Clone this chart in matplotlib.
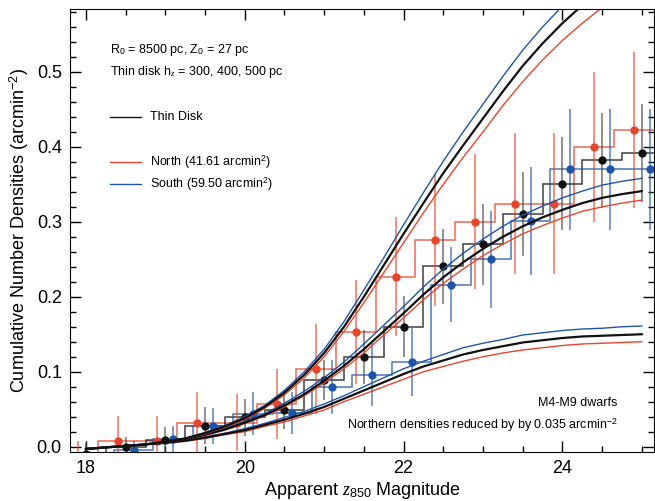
import matplotlib.pyplot as plt
from matplotlib.ticker import MultipleLocator
import numpy as np

plt.rcParams['font.family'] = ['Liberation Sans', 'DejaVu Sans']
plt.rcParams['mathtext.fontset'] = 'custom'
plt.rcParams['mathtext.rm'] = 'Liberation Sans'
plt.rcParams['mathtext.it'] = 'Liberation Serif:italic'

# binned cumulative densities (black = all, red = north, blue = south)
mag_bins = [18.0, 18.5, 19.0, 19.5, 20.0, 20.5, 21.0, 21.5,
            22.0, 22.5, 23.0, 23.5, 24.0, 24.5, 25.0]
all_dens = [-0.010, 0.000, 0.009, 0.028, 0.039, 0.049, 0.089, 0.120,
            0.160, 0.241, 0.270, 0.311, 0.351, 0.382, 0.392]
all_err = [0.015, 0.013, 0.017, 0.025, 0.025, 0.026, 0.027, 0.036,
           0.041, 0.050, 0.054, 0.056, 0.062, 0.063, 0.065]

north_mag = [17.9, 18.4, 18.9, 19.4, 19.9, 20.4, 20.9, 21.4,
             21.9, 22.4, 22.9, 23.4, 23.9, 24.4, 24.9]
north_dens = [-0.030, 0.007, 0.007, 0.031, 0.032, 0.057, 0.104, 0.153,
              0.227, 0.276, 0.300, 0.324, 0.324, 0.400, 0.423]
north_err = [0.037, 0.034, 0.034, 0.042, 0.038, 0.047, 0.060, 0.069,
             0.080, 0.088, 0.090, 0.094, 0.094, 0.100, 0.104]

south_mag = [18.1, 18.6, 19.1, 19.6, 20.1, 20.6, 21.1, 21.6,
             22.1, 22.6, 23.1, 23.6, 24.1, 24.6, 25.1]
south_dens = [-0.020, -0.005, 0.010, 0.027, 0.044, 0.045, 0.079, 0.096,
              0.113, 0.216, 0.250, 0.301, 0.370, 0.370, 0.370]
south_err = [0.010, 0.012, 0.018, 0.024, 0.029, 0.028, 0.036, 0.042,
             0.045, 0.050, 0.065, 0.072, 0.081, 0.081, 0.081]

# thin disk model curves for hz = 300, 400, 500 pc
model_mag = [18.0, 18.25, 18.5, 18.75, 19.0, 19.25, 19.5, 19.75,
             20.0, 20.25, 20.5, 20.75, 21.0, 21.25, 21.5, 21.75,
             22.0, 22.25, 22.5, 22.75, 23.0, 23.25, 23.5, 23.75,
             24.0, 24.25, 24.5, 24.75, 25.0]
hz300_all = [-0.003, -0.001, 0.001, 0.003, 0.005, 0.008, 0.012, 0.017,
             0.022, 0.029, 0.036, 0.044, 0.053, 0.064, 0.075, 0.086,
             0.097, 0.107, 0.115, 0.123, 0.129, 0.134, 0.139, 0.142,
             0.145, 0.147, 0.148, 0.149, 0.150]
hz300_south = [-0.003, -0.001, 0.001, 0.003, 0.005, 0.009, 0.013, 0.018,
               0.024, 0.031, 0.039, 0.047, 0.057, 0.068, 0.080, 0.092,
               0.104, 0.114, 0.123, 0.132, 0.138, 0.143, 0.149, 0.152,
               0.155, 0.157, 0.158, 0.160, 0.161]
hz300_north = [-0.003, -0.001, 0.001, 0.003, 0.005, 0.007, 0.011, 0.016,
               0.020, 0.027, 0.033, 0.041, 0.049, 0.060, 0.070, 0.080,
               0.090, 0.100, 0.107, 0.114, 0.120, 0.125, 0.129, 0.132,
               0.135, 0.137, 0.138, 0.139, 0.140]
hz400_all = [-0.003, -0.001, 0.001, 0.003, 0.006, 0.010, 0.016, 0.023,
             0.032, 0.042, 0.055, 0.070, 0.088, 0.108, 0.130, 0.154,
             0.178, 0.203, 0.226, 0.246, 0.264, 0.280, 0.294, 0.306,
             0.316, 0.325, 0.332, 0.337, 0.341]
hz400_south = [-0.003, -0.001, 0.001, 0.003, 0.006, 0.011, 0.017, 0.024,
               0.034, 0.044, 0.058, 0.074, 0.092, 0.113, 0.137, 0.162,
               0.187, 0.213, 0.237, 0.258, 0.277, 0.294, 0.309, 0.321,
               0.332, 0.341, 0.349, 0.354, 0.358]
hz400_north = [-0.003, -0.001, 0.001, 0.003, 0.006, 0.010, 0.015, 0.022,
               0.031, 0.041, 0.053, 0.068, 0.085, 0.104, 0.125, 0.149,
               0.172, 0.196, 0.218, 0.237, 0.255, 0.270, 0.284, 0.295,
               0.305, 0.314, 0.320, 0.325, 0.329]
hz500_all = [-0.003, -0.001, 0.001, 0.003, 0.007, 0.011, 0.018, 0.027,
             0.038, 0.053, 0.072, 0.096, 0.125, 0.160, 0.200, 0.242,
             0.284, 0.325, 0.365, 0.402, 0.438, 0.474, 0.508, 0.538,
             0.565, 0.589, 0.610, 0.630, 0.650]
hz500_south = [-0.003, -0.001, 0.001, 0.003, 0.007, 0.011, 0.019, 0.028,
               0.040, 0.055, 0.075, 0.100, 0.130, 0.167, 0.209, 0.252,
               0.296, 0.339, 0.381, 0.420, 0.457, 0.494, 0.529, 0.560,
               0.588, 0.613, 0.635, 0.656, 0.676]
hz500_north = [-0.003, -0.001, 0.001, 0.003, 0.007, 0.011, 0.017, 0.026,
               0.036, 0.051, 0.069, 0.092, 0.120, 0.154, 0.192, 0.232,
               0.272, 0.312, 0.350, 0.386, 0.420, 0.455, 0.487, 0.516,
               0.542, 0.565, 0.586, 0.605, 0.624]

red = '#e8452c'
blue = '#1f55a8'
black = '#111111'
bin_width = 0.5

fig = plt.figure(figsize=(6.55, 5.01), dpi=100)
ax = fig.add_axes([0.107, 0.098, 0.891, 0.884])


def draw_set(mags, dens, errs, color, err_color):
    mags = np.array(mags)
    edges = np.append(mags - bin_width / 2, mags[-1] + bin_width / 2)
    ax.stairs(dens, edges, baseline=None, color=color, lw=1.1, alpha=0.8)
    ax.errorbar(mags, dens, yerr=errs, fmt='none', ecolor=err_color,
                elinewidth=1.1, alpha=0.75)
    ax.plot(mags, dens, 'o', color=color, ms=6, mec='none')


draw_set(north_mag, north_dens, north_err, red, red)
draw_set(mag_bins, all_dens, all_err, black, '#444444')
draw_set(south_mag, south_dens, south_err, blue, blue)

for curve_all, curve_n, curve_s in [(hz300_all, hz300_north, hz300_south),
                                    (hz400_all, hz400_north, hz400_south),
                                    (hz500_all, hz500_north, hz500_south)]:
    ax.plot(model_mag, curve_n, color=red, lw=1.0)
    ax.plot(model_mag, curve_s, color=blue, lw=1.0)
    ax.plot(model_mag, curve_all, color=black, lw=1.6)

ax.set_xlim(17.8, 25.15)
ax.set_ylim(-0.007, 0.584)
ax.xaxis.set_major_locator(MultipleLocator(2))
ax.xaxis.set_minor_locator(MultipleLocator(0.5))
ax.yaxis.set_major_locator(MultipleLocator(0.1))
ax.yaxis.set_minor_locator(MultipleLocator(0.02))
ax.tick_params(which='both', direction='in', top=True, right=True,
               labelsize=13, width=1.0)
ax.tick_params(which='major', length=8, pad=6)
ax.tick_params(which='minor', length=4)
ax.yaxis.set_major_formatter(plt.FuncFormatter(lambda v, p: f'{v:.1f}'))

ax.set_xlabel(r'Apparent $\mathit{z}_{850}$ Magnitude', fontsize=13, labelpad=2)
ax.set_ylabel(r'Cumulative Number Densities (arcmin$^{-2}$)', fontsize=13,
              labelpad=4)

ax.text(0.0685, 0.907, r'R$_0$ = 8500 pc, Z$_0$ = 27 pc', transform=ax.transAxes,
        fontsize=9, va='center')
ax.text(0.0685, 0.858, r'Thin disk h$_z$ = 300, 400, 500 pc',
        transform=ax.transAxes, fontsize=9, va='center')

legend_rows = [(0.756, black, 'Thin Disk'),
               (0.655, red, r'North (41.61 arcmin$^2$)'),
               (0.605, blue, r'South (59.50 arcmin$^2$)')]
for y, c, label in legend_rows:
    ax.plot([0.0685, 0.1216], [y, y], color=c, lw=1.0, transform=ax.transAxes)
    ax.text(0.137, y, label, transform=ax.transAxes, fontsize=9, va='center')

ax.text(0.937, 0.111, 'M4-M9 dwarfs', transform=ax.transAxes, fontsize=9,
        ha='right', va='center')
ax.text(0.938, 0.061, r'Northern densities reduced by by 0.035 arcmin$^{-2}$',
        transform=ax.transAxes, fontsize=9, ha='right', va='center')

plt.savefig('out.png', dpi=100)
